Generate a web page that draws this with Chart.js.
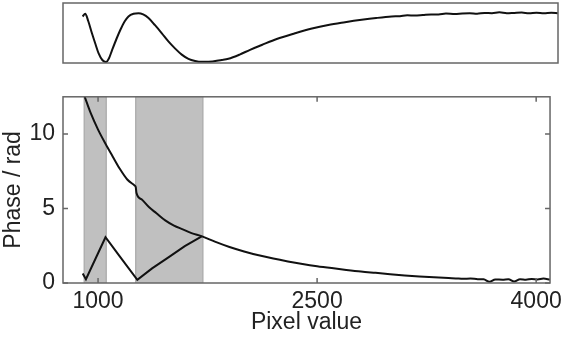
<!DOCTYPE html>
<html>
<head>
<meta charset="utf-8">
<script src="https://cdn.jsdelivr.net/npm/chart.js@4"></script>
<style>
  html, body { margin: 0; padding: 0; background: #fff; }
  #wrap { position: relative; width: 567px; height: 338px; }
  canvas { position: absolute; left: 0; }
  #top { top: 0; }
  #bottom { top: 75px; }
</style>
</head>
<body>
<div id="wrap">
  <canvas id="top" width="567" height="70"></canvas>
  <canvas id="bottom" width="567" height="263"></canvas>
</div>
<script>
// Диапазон оси X (значение пикселя)
const xMin = 760
const xMax = 4095
const xTicks = [1000, 2500, 4000]
const yTicks = [0, 5, 10]

// Верхний график: интенсивность (нормированная)
const intX = [892, 910, 930, 955, 978, 1000, 1025, 1049, 1070, 1090, 1120, 1146, 1175, 1201, 1235, 1269,
  1300, 1336, 1380, 1426, 1470, 1516, 1560, 1605, 1650, 1695, 1740, 1830, 1874, 1950, 2020, 2099,
  2200, 2323, 2430, 2547, 2660, 2772, 2870, 2974, 3030, 3080, 3130, 3185, 3240, 3290, 3340, 3400,
  3450, 3500, 3550, 3600, 3650, 3700, 3750, 3800, 3850, 3900, 3950, 4000, 4050, 4094]
const intY = [0.775, 0.82, 0.70, 0.495, 0.32, 0.16, 0.05, 0.015, 0.08, 0.21, 0.40, 0.55, 0.69, 0.775, 0.82, 0.83,
  0.81, 0.75, 0.63, 0.495, 0.36, 0.24, 0.14, 0.07, 0.035, 0.02, 0.02, 0.05, 0.07, 0.14, 0.22, 0.30,
  0.40, 0.495, 0.57, 0.635, 0.68, 0.72, 0.75, 0.775, 0.78, 0.795, 0.79, 0.80, 0.81, 0.81, 0.825, 0.815,
  0.825, 0.83, 0.82, 0.835, 0.83, 0.845, 0.83, 0.835, 0.84, 0.828, 0.836, 0.83, 0.838, 0.83]

// Нижний график: развёрнутая фаза
const phaseX = [905, 950, 1000, 1051, 1100, 1150, 1200, 1250, 1258, 1263, 1300, 1350, 1400, 1460, 1520,
  1580, 1640, 1713, 1800, 1900, 2000, 2100, 2200, 2300, 2400, 2500, 2600, 2700, 2800, 2900, 3000,
  3100, 3200, 3300, 3400, 3450, 3500, 3550, 3600, 3640, 3681, 3720, 3770, 3810, 3849, 3890, 3930,
  3970, 4010, 4050, 4094]
const phaseY = [12.6, 11.4, 10.3, 9.35, 8.5, 7.65, 6.95, 6.55, 6.45, 6.05, 5.6, 5.08, 4.68, 4.2, 3.85,
  3.6, 3.35, 3.13, 2.78, 2.42, 2.12, 1.86, 1.64, 1.45, 1.28, 1.13, 1.0, 0.88, 0.77, 0.68, 0.59,
  0.51, 0.44, 0.38, 0.33, 0.31, 0.28, 0.3, 0.26, 0.25, 0.08, 0.24, 0.22, 0.26, 0.1, 0.25, 0.22,
  0.27, 0.24, 0.3, 0.22]

// Свёрнутая фаза
const foldX = [895, 917, 1051, 1146, 1269, 1370, 1482, 1594, 1710]
const foldY = [0.63, 0.25, 3.07, 1.82, 0.21, 0.98, 1.72, 2.48, 3.13]

// Серые области
const shadeStart = [905, 1258]
const shadeEnd = [1056, 1718]

function points(xs, ys) {
  return xs.map((x, i) => ({ x: x, y: ys[i] }))
}

const fontFamily = '"Liberation Sans", Arial, Helvetica, sans-serif'
const fontSize = 23

// Рамка вокруг области графика и внутренние засечки
const frame = {
  id: 'frame',
  afterDatasetsDraw(chart, args, opts) {
    const { ctx, chartArea: { left, top, right, bottom } } = chart
    ctx.save()
    ctx.strokeStyle = '#666'
    ctx.lineWidth = 1.5
    if (opts.ticks) {
      const xs = chart.scales.x
      const ys = chart.scales.y
      ctx.beginPath()
      xTicks.forEach((v) => {
        const px = xs.getPixelForValue(v)
        ctx.moveTo(px, bottom)
        ctx.lineTo(px, bottom - 5)
        ctx.moveTo(px, top)
        ctx.lineTo(px, top + 5)
      })
      yTicks.forEach((v) => {
        const py = ys.getPixelForValue(v)
        ctx.moveTo(left, py)
        ctx.lineTo(left + 5, py)
        ctx.moveTo(right, py)
        ctx.lineTo(right - 5, py)
      })
      ctx.stroke()
    }
    ctx.strokeRect(left, top, right - left, bottom - top)
    ctx.restore()
  },
}

// Заливка серых интервалов
const shades = {
  id: 'shades',
  beforeDatasetsDraw(chart) {
    const { ctx, chartArea: { top, bottom } } = chart
    const xs = chart.scales.x
    ctx.save()
    shadeStart.forEach((s, i) => {
      const x1 = xs.getPixelForValue(s)
      const x2 = xs.getPixelForValue(shadeEnd[i])
      ctx.fillStyle = '#c0c0c0'
      ctx.fillRect(x1, top, x2 - x1, bottom - top)
      ctx.strokeStyle = '#a8a8a8'
      ctx.lineWidth = 1.2
      ctx.beginPath()
      ctx.moveTo(x1, top)
      ctx.lineTo(x1, bottom)
      ctx.moveTo(x2, top)
      ctx.lineTo(x2, bottom)
      ctx.stroke()
    })
    ctx.restore()
  },
}

const lineStyle = {
  borderColor: '#111',
  borderWidth: 2,
  pointRadius: 0,
  showLine: true,
  fill: false,
}

// Верхний график
new Chart(document.getElementById('top'), {
  type: 'scatter',
  data: {
    datasets: [
      Object.assign({ data: points(intX, intY), cubicInterpolationMode: 'monotone' }, lineStyle),
    ],
  },
  options: {
    responsive: false,
    animation: false,
    devicePixelRatio: 1,
    layout: { padding: { left: 63, right: 9, top: 3, bottom: 7 } },
    plugins: { legend: { display: false }, tooltip: { enabled: false }, frame: { ticks: false } },
    scales: {
      x: { type: 'linear', min: xMin, max: xMax, display: false },
      y: { type: 'linear', min: 0, max: 1, display: false },
    },
  },
  plugins: [frame],
})

// Нижний график
new Chart(document.getElementById('bottom'), {
  type: 'scatter',
  data: {
    datasets: [
      Object.assign({ data: points(phaseX, phaseY), cubicInterpolationMode: 'monotone' }, lineStyle),
      Object.assign({ data: points(foldX, foldY), tension: 0 }, lineStyle),
    ],
  },
  options: {
    responsive: false,
    animation: false,
    devicePixelRatio: 1,
    layout: { padding: { left: 0, right: 9, top: 12, bottom: 0 } },
    plugins: { legend: { display: false }, tooltip: { enabled: false }, frame: { ticks: true } },
    scales: {
      x: {
        type: 'linear',
        min: xMin,
        max: xMax,
        grid: { display: false, drawTicks: false },
        border: { display: false },
        afterBuildTicks: (scale) => { scale.ticks = xTicks.map((v) => ({ value: v })) },
        afterFit: (scale) => { scale.height = 55 },
        ticks: {
          padding: 5,
          color: '#222',
          maxRotation: 0,
          callback: (v) => String(v),
          font: { family: fontFamily, size: fontSize },
        },
        title: {
          display: true,
          text: 'Pixel value',
          color: '#222',
          padding: { top: 0, bottom: 2 },
          font: { family: fontFamily, size: fontSize },
        },
      },
      y: {
        type: 'linear',
        min: 0,
        max: 12.5,
        grid: { display: false, drawTicks: false },
        border: { display: false },
        afterBuildTicks: (scale) => { scale.ticks = yTicks.map((v) => ({ value: v })) },
        afterFit: (scale) => { scale.width = 63 },
        ticks: {
          padding: 8,
          color: '#222',
          callback: (v) => String(v),
          font: { family: fontFamily, size: fontSize },
        },
        title: {
          display: true,
          text: 'Phase / rad',
          color: '#222',
          padding: { top: 0, bottom: 0 },
          font: { family: fontFamily, size: fontSize },
        },
      },
    },
  },
  plugins: [shades, frame],
})
</script>
</body>
</html>
